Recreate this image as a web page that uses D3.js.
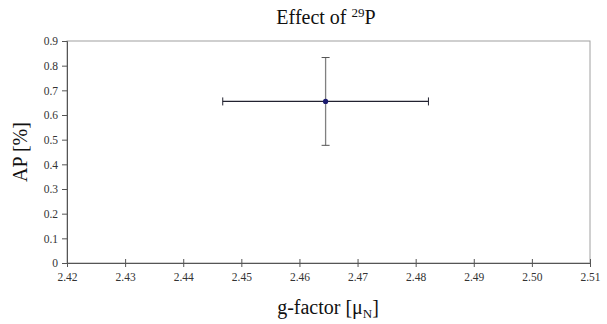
<!DOCTYPE html>
<html>
<head>
<meta charset="utf-8">
<script src="https://cdn.jsdelivr.net/npm/d3@7"></script>
<style>
  body { margin: 0; background: #fff; }
  text { font-family: "Liberation Serif", "Times New Roman", serif; }
</style>
</head>
<body>
<svg id="chart" width="607" height="324"></svg>
<script>
const xTicks = [2.42, 2.43, 2.44, 2.45, 2.46, 2.47, 2.48, 2.49, 2.50, 2.51];
const yTicks = [0, 0.1, 0.2, 0.3, 0.4, 0.5, 0.6, 0.7, 0.8, 0.9];
const gFactor = [2.4645];
const apValue = [0.655];
const xErr = [0.0177];
const yErr = [0.178];

const svg = d3.select("#chart");
const margin = {left: 67, right: 17, top: 41, bottom: 61};
const width = 607 - margin.left - margin.right;
const height = 324 - margin.top - margin.bottom;

const x = d3.scaleLinear().domain([2.42, 2.51]).range([0, width]);
const y = d3.scaleLinear().domain([0, 0.9]).range([height, 0]);

const g = svg.append("g").attr("transform", `translate(${margin.left},${margin.top})`);

// frame
g.append("rect")
  .attr("width", width).attr("height", height)
  .attr("fill", "none").attr("stroke", "#a0a0a0").attr("stroke-width", 1);

// y axis
const yAxis = g.append("g")
  .call(d3.axisLeft(y).tickValues(yTicks).tickSize(5).tickFormat(d => d === 0 ? "0" : d3.format(".1f")(d)));
yAxis.select(".domain").attr("stroke", "#555");
yAxis.selectAll(".tick line").attr("stroke", "#555");
yAxis.selectAll("text").attr("font-size", 11.5).attr("fill", "#333").attr("x", -9);

// x axis
const xAxis = g.append("g").attr("transform", `translate(0,${height})`)
  .call(d3.axisBottom(x).tickValues(xTicks).tickSize(4).tickFormat(d3.format(".2f")));
xAxis.select(".domain").attr("stroke", "#555");
xAxis.selectAll(".tick line").attr("stroke", "#555").attr("y1", -4);
xAxis.selectAll("text").attr("font-size", 11.5).attr("fill", "#333").attr("y", 10);

const pts = gFactor.map((v, i) => ({gx: v, ap: apValue[i], ex: xErr[i], ey: yErr[i]}));
const cap = 4;

// error bars and marker
pts.forEach(d => {
  const cx = x(d.gx), cy = y(d.ap);
  const top = y(d.ap + d.ey), bot = y(d.ap - d.ey);
  g.append("line").attr("x1", cx).attr("x2", cx).attr("y1", top).attr("y2", bot)
    .attr("stroke", "#808080").attr("stroke-width", 1.3);
  [top, bot].forEach(yy => g.append("line").attr("x1", cx - cap).attr("x2", cx + cap)
    .attr("y1", yy).attr("y2", yy).attr("stroke", "#555").attr("stroke-width", 1));
  const l = x(d.gx - d.ex), r = x(d.gx + d.ex);
  g.append("line").attr("x1", l).attr("x2", r).attr("y1", cy).attr("y2", cy)
    .attr("stroke", "#222230").attr("stroke-width", 1.2);
  [l, r].forEach(xx => g.append("line").attr("x1", xx).attr("x2", xx)
    .attr("y1", cy - cap).attr("y2", cy + cap).attr("stroke", "#222230").attr("stroke-width", 1));
  g.append("circle").attr("cx", cx).attr("cy", cy).attr("r", 2.6).attr("fill", "#1a1a6e");
});

// title
const title = svg.append("text").attr("x", 326).attr("y", 24).attr("text-anchor", "middle")
  .attr("font-size", 20).attr("fill", "#111");
title.append("tspan").text("Effect of ");
title.append("tspan").attr("font-size", 13).attr("dy", -7).text("29");
title.append("tspan").attr("dy", 7).text("P");

// axis titles
svg.append("text").attr("transform", `translate(27,${margin.top + height / 2}) rotate(-90)`)
  .attr("text-anchor", "middle").attr("font-size", 20).attr("fill", "#111").text("AP [%]");

const xt = svg.append("text").attr("x", 328).attr("y", 314).attr("text-anchor", "middle")
  .attr("font-size", 20).attr("fill", "#111");
xt.append("tspan").text("g-factor [μ");
xt.append("tspan").attr("font-size", 13).attr("dy", 4).text("N");
xt.append("tspan").attr("dy", -4).text("]");
</script>
</body>
</html>
